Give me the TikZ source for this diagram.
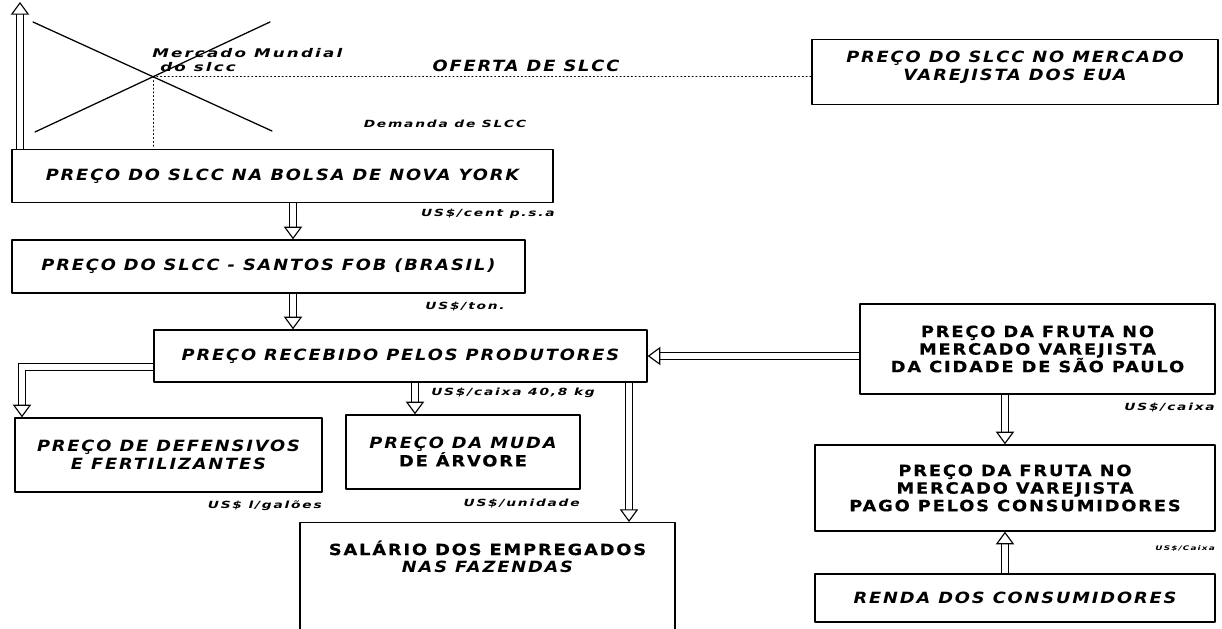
\documentclass[tikz,border=0pt]{standalone}
\usepackage{fontspec}
\setmainfont{DejaVu Sans}
\newfontfamily\boxfont{DejaVu Sans}[FakeStretch=1.15,LetterSpace=12,BoldFeatures={FakeBold=0.5}]
\newfontfamily\unitfont{DejaVu Sans}[FakeStretch=1.4,LetterSpace=18,BoldFeatures={FakeBold=0.8}]
\newcommand{\boxtext}{\boxfont\bfseries\fontsize{11}{12.5}\selectfont}
\newcommand{\unittext}{\unitfont\bfseries\itshape\fontsize{7}{8}\selectfont}
\usetikzlibrary{arrows.meta,positioning}

\begin{document}
\begin{tikzpicture}
    [x=0.025cm,y=-0.025cm,line cap=round,line join=round,
     box/.style 2 args={draw,line width=1pt,inner sep=0pt,align=center,font=\boxtext,
        minimum width=#1*0.025cm,minimum height=#2*0.025cm},
     ital/.style={font=\boxtext\itshape},
     fat/.style={line width=0.8pt,line cap=butt,line join=miter,double=white,double distance=3.6pt,
        -{Triangle[fill=white,length=9pt,width=13pt]}},
     dots/.style={dotted,line width=0.7pt},
     unit/.style={inner sep=0pt,font=\unittext}]
\useasboundingbox (0,0) rectangle (1222,629);
%the boxes
\node[box={406}{65},ital,text depth=0.3cm] (eua) at (1015,72) {PREÇO DO SLCC NO MERCADO\\VAREJISTA DOS EUA};
\node[box={541}{53},ital] (ny) at (282.5,176) {PREÇO DO SLCC NA BOLSA DE NOVA YORK};
\node[box={513}{53},ital] (santos) at (268.5,266.5) {PREÇO DO SLCC - SANTOS FOB (BRASIL)};
\node[box={493}{52},ital] (prod) at (400.5,356) {PREÇO RECEBIDO PELOS PRODUTORES};
\node[box={307}{74},ital] (def) at (168.5,455) {PREÇO DE DEFENSIVOS\\E FERTILIZANTES};
\node[box={234}{74}] (muda) at (463,452) {{\itshape PREÇO DA MUDA}\\DE ÁRVORE};
\node[box={375}{30},anchor=north,inner ysep=0.45cm,text depth=1.6cm] (sal) at (487.5,522) {SALÁRIO DOS EMPREGADOS\\{\itshape NAS FAZENDAS}};
\node[box={355}{90}] (sp) at (1037.5,349) {PREÇO DA FRUTA NO\\MERCADO VAREJISTA\\DA CIDADE DE SÃO PAULO};
\node[box={400}{86}] (pago) at (1015,488) {PREÇO DA FRUTA NO\\MERCADO VAREJISTA\\PAGO PELOS CONSUMIDORES};
\node[box={400}{48},ital] (renda) at (1015,598) {RENDA DOS CONSUMIDORES};
%supply and demand cross
\coordinate (dA) at (33,22);
\coordinate (dB) at (272,131);
\coordinate (oA) at (35,132);
\coordinate (oB) at (270,22);
\draw[line width=0.9pt] (dA) -- (dB);
\draw[line width=0.9pt] (oA) -- (oB);
\coordinate (eq) at (intersection of dA--dB and oA--oB);
\draw[dots] (eq) -- (eq -| eua.west);
\draw[dots] (eq) -- (eq |- ny.north);
\node[unit,font=\unitfont\bfseries\itshape\fontsize{8.5}{10}\selectfont,align=left,anchor=west] (mm) at (152,60) {Mercado Mundial\\\ do slcc};
\node[unit,font=\boxtext\itshape] (of) at (526,66) {OFERTA DE SLCC};
\node[unit] (dem) at (445,124) {Demanda de SLCC};
%hollow arrows
\coordinate (up) at (20,2);
\draw[fat] (ny.north -| up) -- (up);
\coordinate (x1) at (293,0);
\draw[fat] (ny.south -| x1) -- (santos.north -| x1);
\draw[fat] (santos.south -| x1) -- (prod.north -| x1);
\coordinate (x2) at (415,0);
\draw[fat] (prod.south -| x2) -- (muda.north -| x2);
\coordinate (x3) at (629,0);
\draw[fat] (prod.south -| x3) -- (sal.north -| x3);
\coordinate (el) at (22,367);
\draw[fat] (prod.west |- el) -| (def.north -| el);
\draw[fat] (sp.west |- prod.east) -- (prod.east);
\coordinate (x4) at (1005,0);
\draw[fat] (sp.south -| x4) -- (pago.north -| x4);
\draw[fat] (renda.north -| x4) -- (pago.south -| x4);
%units
\node[unit,anchor=east] (u1) at (555,214) {US\$/cent p.s.a};
\node[unit,anchor=east] (u2) at (505,306) {US\$/ton.};
\node[unit,anchor=west] (u3) at (431,393) {US\$/caixa 40,8 kg};
\node[unit,anchor=east] (u4) at (322,506) {US\$ l/galões};
\node[unit,anchor=east] (u5) at (580,503) {US\$/unidade};
\node[unit,anchor=east] (u6) at (1215,407) {US\$/caixa};
\node[unit,anchor=east,font=\unitfont\bfseries\itshape\fontsize{4.5}{5}\selectfont] (u7) at (1215,549) {US\$/Caixa};
\end{tikzpicture}
\end{document}
